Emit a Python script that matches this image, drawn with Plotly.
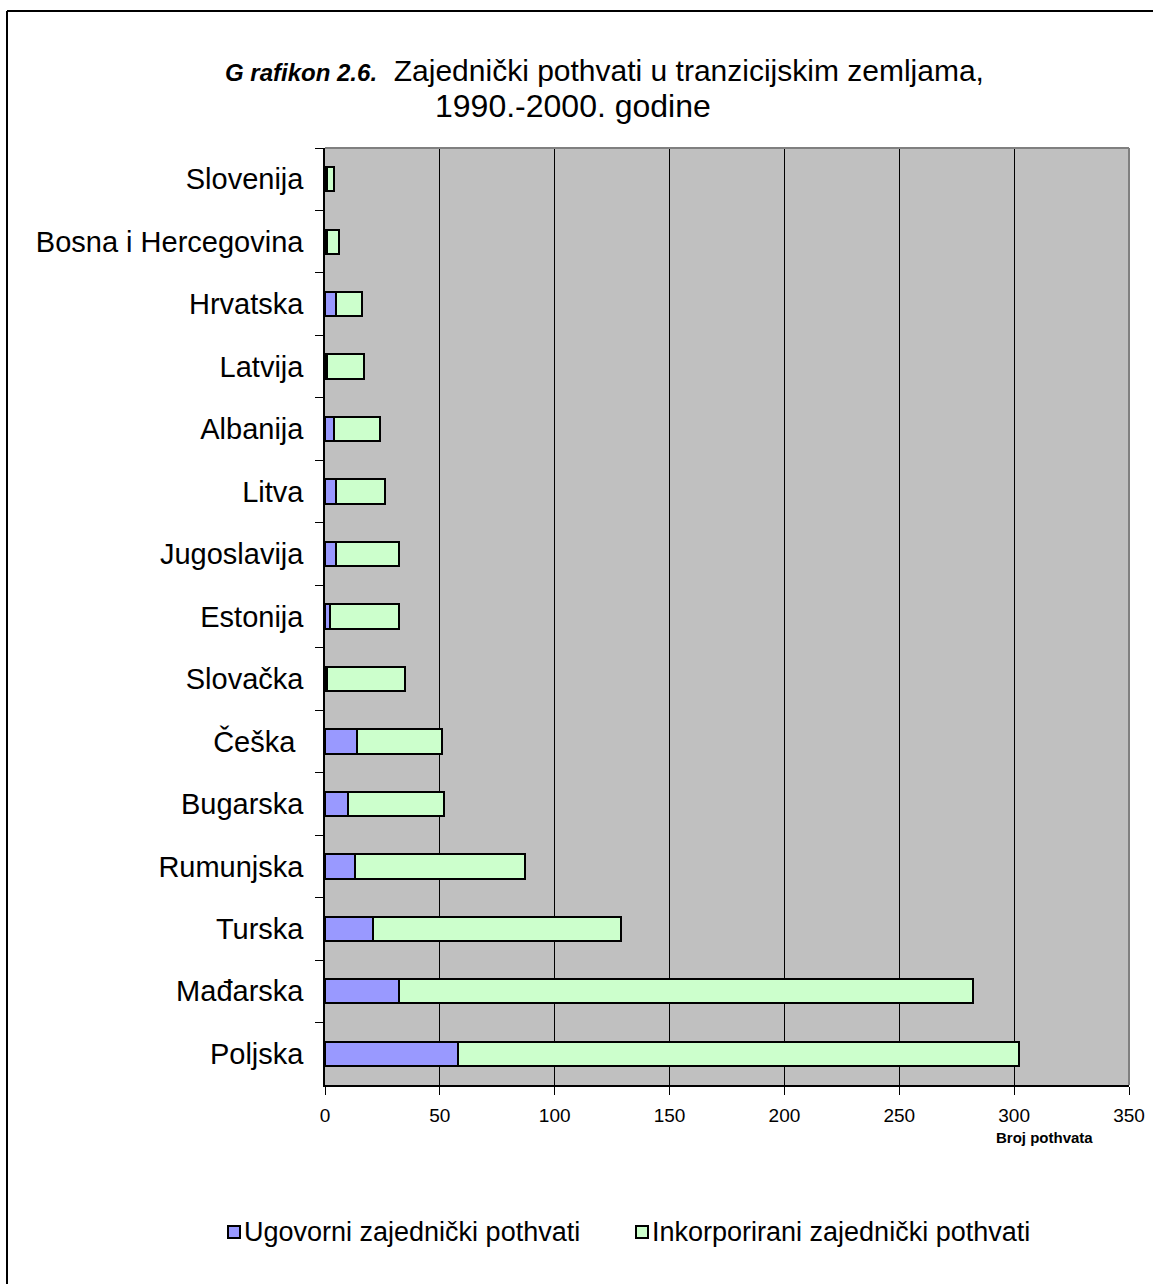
import plotly.graph_objects as go

countries = ["Slovenija", "Bosna i Hercegovina", "Hrvatska", "Latvija", "Albanija",
             "Litva", "Jugoslavija", "Estonija", "Slovačka", "Češka ",
             "Bugarska", "Rumunjska", "Turska", "Mađarska", "Poljska"]
ugovorni = [1, 1, 5, 1, 4, 5, 5, 2, 1, 14, 10, 13, 21, 32, 58]
inkorporirani = [3, 5, 11, 16, 20, 21, 27, 30, 34, 37, 42, 74, 108, 250, 244]
x_ticks = [0, 50, 100, 150, 200, 250, 300, 350]
series_names = ["Ugovorni zajednički pothvati", "Inkorporirani zajednički pothvati"]
series_colors = ["#9999FF", "#CCFFCC"]

W, H = 1153, 1284
L, R, T, B = 325, 1129, 148, 1085

def px(xp):
    return (xp - L) / (R - L)

def py(yp):
    return (B - yp) / (B - T)

FONT = "Liberation Sans, Arial, sans-serif"

fig = go.Figure()
for vals, name, col in zip([ugovorni, inkorporirani], series_names, series_colors):
    fig.add_trace(go.Bar(y=countries, x=vals, orientation="h", name=name,
                         marker=dict(color=col, line=dict(color="black", width=2))))

fig.update_layout(
    width=W, height=H,
    margin=dict(l=L, r=W - R, t=T, b=H - B, autoexpand=False),
    barmode="stack", bargap=0.61,
    plot_bgcolor="#C0C0C0", paper_bgcolor="white",
    font=dict(family=FONT, color="black"),
    showlegend=False,
    xaxis=dict(range=[0, 350], tickvals=x_ticks, ticktext=[str(v) for v in x_ticks],
               showgrid=True, gridcolor="black", gridwidth=1,
               showline=True, linecolor="black", linewidth=1.5,
               ticks="outside", ticklen=8, tickcolor="black", ticklabelstandoff=4,
               tickfont=dict(size=19, family=FONT), zeroline=False, fixedrange=True,
               automargin=False),
    yaxis=dict(autorange="reversed", type="category",
               showline=True, linecolor="black", linewidth=1.5,
               ticks="outside", ticklen=8, tickcolor="black", tickson="boundaries",
               tickfont=dict(size=29, family=FONT), ticklabelstandoff=14,
               showgrid=False, fixedrange=True, automargin=False),
)

# plot area gray frame (top/right)
fig.add_shape(type="line", xref="paper", yref="paper", x0=0, x1=1, y0=1, y1=1,
              line=dict(color="#808080", width=2), layer="above")
fig.add_shape(type="line", xref="paper", yref="paper", x0=1, x1=1, y0=0, y1=1,
              line=dict(color="#808080", width=2), layer="above")

# outer chart border (top and left)
fig.add_shape(type="line", xref="paper", yref="paper", x0=px(7), x1=px(1160), y0=py(11), y1=py(11),
              line=dict(color="black", width=2))
fig.add_shape(type="line", xref="paper", yref="paper", x0=px(7), x1=px(7), y0=py(11), y1=py(1300),
              line=dict(color="black", width=2))

# title
fig.add_annotation(xref="paper", yref="paper", x=px(604), y=py(70),
                   text="<b><i><span style='font-size:24px'>G rafikon 2.6.</span></i></b>  Zajednički pothvati u tranzicijskim zemljama,",
                   showarrow=False, font=dict(size=30, family=FONT), xanchor="center", yanchor="middle")
fig.add_annotation(xref="paper", yref="paper", x=px(573), y=py(106),
                   text="1990.-2000. godine",
                   showarrow=False, font=dict(size=32, family=FONT), xanchor="center", yanchor="middle")
fig.add_annotation(xref="paper", yref="paper", x=px(1044), y=py(1137),
                   text="<b>Broj pothvata</b>",
                   showarrow=False, font=dict(size=15, family=FONT), xanchor="center", yanchor="middle")

# legend (drawn manually to match the original spacing)
legend_x = [228, 636]
for lx, name, col in zip(legend_x, series_names, series_colors):
    fig.add_shape(type="rect", xref="paper", yref="paper",
                  x0=px(lx), x1=px(lx + 12), y0=py(1238), y1=py(1226),
                  fillcolor=col, line=dict(color="black", width=2))
    fig.add_annotation(xref="paper", yref="paper", x=px(lx + 14), y=py(1232),
                       text=name, showarrow=False, font=dict(size=27, family=FONT),
                       xanchor="left", yanchor="middle")

fig.write_html("out.html")
